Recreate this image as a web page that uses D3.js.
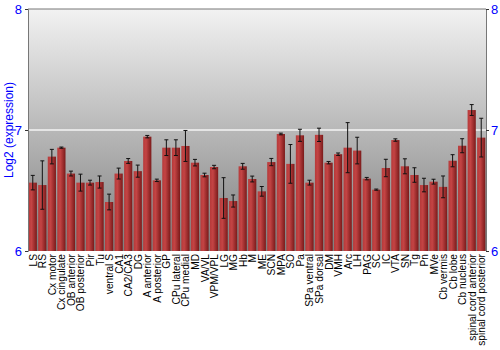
<!DOCTYPE html>
<html>
<head>
<script src="https://cdn.jsdelivr.net/npm/d3@7"></script>
<style>
  body { margin: 0; background: #fff; }
  text { font-family: "Liberation Sans", Arial, sans-serif; }
</style>
</head>
<body>
<div id="chart"></div>
<script>
var regions = ["LS", "RS", "Cx motor", "Cx cingulate", "OB anterior", "OB posterior", "Pir", "Tu",
  "ventral S", "CA1", "CA2/CA3", "DG", "A anterior", "A posterior", "GP", "CPu lateral", "CPu medial",
  "MD", "VA/VL", "VPM/VPL", "LG", "MG", "Hb", "M", "ME", "SCN", "MPA", "SO", "Pa", "SPa ventral",
  "SPa dorsal", "DM", "VMH", "Arc", "LH", "PAG", "SC", "IC", "VTA", "SN", "Tg", "Pn", "MVe",
  "Cb vermis", "Cb lobe", "Cb nucleus", "spinal cord anterior", "spinal cord posterior"];

var expression = [6.565, 6.545, 6.78, 6.854, 6.64, 6.565, 6.565, 6.57,
  6.405, 6.64, 6.744, 6.66, 6.945, 6.584, 6.854, 6.854, 6.868,
  6.73, 6.628, 6.694, 6.438, 6.413, 6.70, 6.595, 6.493, 6.735, 6.967, 6.72, 6.956, 6.565,
  6.96, 6.73, 6.80, 6.854, 6.83, 6.598, 6.507, 6.686, 6.917, 6.70, 6.628, 6.545, 6.573,
  6.53, 6.746, 6.87, 7.165, 6.937];

var errors = [0.06, 0.2, 0.06, 0.005, 0.02, 0.07, 0.02, 0.05,
  0.065, 0.045, 0.02, 0.05, 0.01, 0.01, 0.065, 0.065, 0.128,
  0.027, 0.015, 0.014, 0.168, 0.05, 0.024, 0.024, 0.04, 0.03, 0.007, 0.16, 0.05, 0.02,
  0.055, 0.01, 0.01, 0.207, 0.11, 0.01, 0.005, 0.072, 0.01, 0.062, 0.06, 0.056, 0.02,
  0.09, 0.05, 0.058, 0.045, 0.16];

var yTicks = [6, 7, 8];

var width = 500, height = 350;
var margin = {top: 9, right: 14, bottom: 99, left: 28};

var svg = d3.select("#chart").append("svg")
  .attr("width", width)
  .attr("height", height);

var defs = svg.append("defs");
var bg = defs.append("linearGradient").attr("id", "bg")
  .attr("x1", 0).attr("y1", 0).attr("x2", 0).attr("y2", 1);
bg.append("stop").attr("offset", "0%").attr("stop-color", "#f2f2f2");
bg.append("stop").attr("offset", "100%").attr("stop-color", "#7e7e7e");

var barGrad = defs.append("linearGradient").attr("id", "bar")
  .attr("x1", 0).attr("y1", 0).attr("x2", 1).attr("y2", 0);
barGrad.append("stop").attr("offset", "0%").attr("stop-color", "#b63a3a");
barGrad.append("stop").attr("offset", "35%").attr("stop-color", "#c44444");
barGrad.append("stop").attr("offset", "100%").attr("stop-color", "#7a1a1a");

var x = d3.scaleBand()
  .domain(regions)
  .range([margin.left, width - margin.right])
  .paddingInner(0.14)
  .paddingOuter(0.07);

var y = d3.scaleLinear()
  .domain([6, 8])
  .range([height - margin.bottom, margin.top]);

// plot background
svg.append("rect")
  .attr("x", margin.left)
  .attr("y", margin.top)
  .attr("width", width - margin.left - margin.right)
  .attr("height", height - margin.top - margin.bottom)
  .attr("fill", "url(#bg)");

// gridline at 7
svg.selectAll(".grid")
  .data([7])
  .enter().append("line")
  .attr("x1", margin.left)
  .attr("x2", width - margin.right)
  .attr("y1", function(d){ return y(d); })
  .attr("y2", function(d){ return y(d); })
  .attr("stroke", "#f4f4f4")
  .attr("stroke-width", 1.5);

// bars
svg.selectAll(".bar")
  .data(regions)
  .enter().append("rect")
  .attr("x", function(d){ return x(d); })
  .attr("width", x.bandwidth())
  .attr("y", function(d, i){ return y(expression[i]); })
  .attr("height", function(d, i){ return y(6) - y(expression[i]); })
  .attr("fill", "url(#bar)");

// error bars
var eb = svg.selectAll(".err")
  .data(regions)
  .enter().append("g")
  .attr("stroke", "#111")
  .attr("stroke-width", 1);

eb.append("line")
  .attr("x1", function(d){ return x(d) + x.bandwidth() / 2; })
  .attr("x2", function(d){ return x(d) + x.bandwidth() / 2; })
  .attr("y1", function(d, i){ return y(expression[i] - errors[i]); })
  .attr("y2", function(d, i){ return y(expression[i] + errors[i]); });

eb.selectAll(".cap")
  .data(function(d, i){ return [[d, expression[i] - errors[i]], [d, expression[i] + errors[i]]]; })
  .enter().append("line")
  .attr("x1", function(d){ return x(d[0]) + x.bandwidth() / 2 - 2; })
  .attr("x2", function(d){ return x(d[0]) + x.bandwidth() / 2 + 2; })
  .attr("y1", function(d){ return y(d[1]); })
  .attr("y2", function(d){ return y(d[1]); });

// border top
svg.append("line")
  .attr("x1", margin.left).attr("x2", width - margin.right)
  .attr("y1", margin.top).attr("y2", margin.top)
  .attr("stroke", "#777");

// axes
var left = svg.append("g")
  .attr("transform", "translate(" + margin.left + ",0)")
  .call(d3.axisLeft(y).tickValues(yTicks).tickSize(3).tickPadding(3).tickFormat(d3.format("d")));
var right = svg.append("g")
  .attr("transform", "translate(" + (width - margin.right) + ",0)")
  .call(d3.axisRight(y).tickValues(yTicks).tickSize(3).tickPadding(2).tickFormat(d3.format("d")));

[left, right].forEach(function(g){
  g.select(".domain").attr("stroke", "#777");
  g.selectAll(".tick line").attr("stroke", "#333");
  g.selectAll(".tick text")
    .attr("fill", "#0000ff")
    .style("font-size", "13px")
    .style("font-family", "'Liberation Sans', Arial, sans-serif");
});

// category labels
svg.selectAll(".lbl")
  .data(regions)
  .enter().append("text")
  .attr("transform", function(d){
    return "translate(" + (x(d) + x.bandwidth() / 2 + 4) + "," + (height - margin.bottom + 3) + ") rotate(-90)";
  })
  .attr("text-anchor", "end")
  .style("font-size", "10.2px")
  .attr("fill", "#000")
  .text(function(d){ return d; });

// y title
svg.append("text")
  .attr("transform", "translate(13," + y(7) + ") rotate(-90)")
  .attr("text-anchor", "middle")
  .attr("fill", "#0000ff")
  .style("font-size", "12px")
  .text("Log2 (expression)");
</script>
</body>
</html>
